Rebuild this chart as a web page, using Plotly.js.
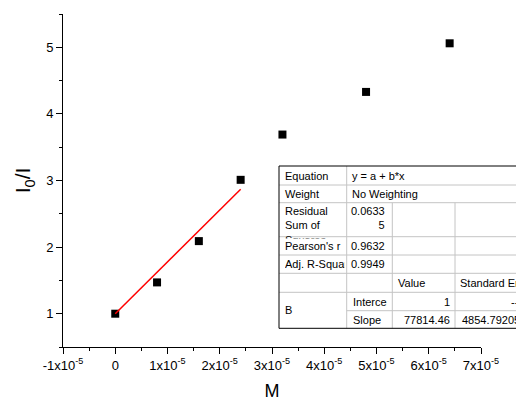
<!DOCTYPE html>
<html>
<head>
<meta charset="utf-8">
<script src="https://cdn.plot.ly/plotly-3.0.1.min.js"></script>
<style>
  html, body { margin: 0; padding: 0; background: #fff; }
  #chart { width: 516px; height: 401px; }
</style>
</head>
<body>
<div id="chart"></div>
<script>
// Measured data: concentration M vs. fluorescence ratio I0/I
const concM = [0, 0.8e-5, 1.6e-5, 2.4e-5, 3.2e-5, 4.8e-5, 6.4e-5];
const ratioI0I = [1.0, 1.47, 2.09, 3.01, 3.69, 4.33, 5.06];

// Linear fit results (first four points)
const fitIntercept = 1;
const fitSlope = 77814.46;
const fitSlopeErr = 4854.79205;
const fitResidualSS = 0.06335;
const fitPearsonR = 0.9632;
const fitAdjR2 = 0.9949;
const fitRangeX = [0, 2.4e-5];

// Axis ticks
const xTickVals = [-1e-5, 0, 1e-5, 2e-5, 3e-5, 4e-5, 5e-5, 6e-5, 7e-5];
const xTickText = ['-1x10<sup>-5</sup>', '0', '1x10<sup>-5</sup>', '2x10<sup>-5</sup>',
  '3x10<sup>-5</sup>', '4x10<sup>-5</sup>', '5x10<sup>-5</sup>', '6x10<sup>-5</sup>', '7x10<sup>-5</sup>'];
const yTickVals = [1, 2, 3, 4, 5];

const fitY = fitRangeX.map(x => fitIntercept + fitSlope * x);

// Page geometry (px) for the plot area and the fit-report table
const W = 516, H = 401, ML = 63, MR = 35, MT = 14, MB = 54;
const PW = W - ML - MR, PH = H - MT - MB;
const px = x => (x - ML) / PW;
const py = y => (H - MB - y) / PH;

const FONT = 'Liberation Sans, Arial, sans-serif';

// Table grid: column edges and row edges
const tc = [279, 346.7, 392.3, 455, 535];
const tr = [166, 185, 202.7, 236.7, 255, 273.3, 292.3, 310.7, 328.3];
const GRID = '#c4c4c4';

const shapes = [];
function seg(x0, y0, x1, y1, color) {
  shapes.push({type: 'line', xref: 'paper', yref: 'paper',
    x0: px(x0), y0: py(y0), x1: px(x1), y1: py(y1),
    line: {color: color, width: 1}});
}
shapes.push({type: 'rect', xref: 'paper', yref: 'paper',
  x0: px(tc[0]), x1: px(tc[4]), y0: py(tr[0]), y1: py(tr[8]),
  fillcolor: '#fff', line: {width: 0}});
for (let i = 1; i < tr.length - 1; i++) {
  seg(i === 7 ? tc[1] : tc[0], tr[i], tc[4], tr[i], GRID);
}
seg(tc[1], tr[0], tc[1], tr[8], GRID);
seg(tc[2], tr[2], tc[2], tr[8], GRID);
seg(tc[3], tr[2], tc[3], tr[8], GRID);
seg(tc[0], tr[0], tc[4], tr[0], '#000');
seg(tc[0], tr[8], tc[4], tr[8], '#000');
seg(tc[0], tr[0], tc[0], tr[8], '#000');

const annotations = [];
// One table cell: text placed at pixel x with the given anchor, centred on rows r0..r1
function cell(text, x, r0, r1, align, extra) {
  annotations.push(Object.assign({
    text: text, xref: 'paper', yref: 'paper', showarrow: false,
    x: px(x), xanchor: align,
    y: py((tr[r0] + tr[r1]) / 2), yanchor: 'middle',
    align: align, borderpad: 0,
    font: {family: FONT, size: 11, color: '#000'}
  }, extra || {}));
}

const L0 = tc[0] + 5, L1 = tc[1] + 4, L1b = tc[1] + 5.5, L2 = tc[2] + 5, L3 = tc[3] + 4;
const R1 = tc[2] - 6, R2 = tc[3] - 4;

cell('Equation', L0, 0, 1, 'left');
cell('y = a + b*x', L1, 0, 1, 'left');
cell('Weight', L0, 1, 2, 'left');
cell('No Weighting', L1, 1, 2, 'left');
cell('Residual<br>Sum of<br>Squares', L0, 2, 3, 'left',
  {y: py(tr[2] + 1), yanchor: 'top', valign: 'top', width: 60, height: tr[3] - tr[2] - 0.5});
cell(String(fitResidualSS).slice(0, 6) + '<br>' + String(fitResidualSS).slice(6), R1, 2, 3, 'right',
  {y: py(tr[2] + 1), yanchor: 'top', valign: 'top'});
cell("Pearson's r", L0, 3, 4, 'left');
cell(fitPearsonR.toFixed(4), R1, 3, 4, 'right');
cell('Adj. R-Square', L0, 4, 5, 'left', {width: 59.5});
cell(fitAdjR2.toFixed(4), R1, 4, 5, 'right');
cell('Value', L2, 5, 6, 'left');
cell('Standard Error', L3, 5, 6, 'left');
cell('B', L0, 6, 8, 'left');
cell('Intercept', L1b, 6, 7, 'left', {width: 34});
cell(String(fitIntercept), R2, 6, 7, 'right');
cell('--', 520, 6, 7, 'right');
cell('Slope', L1b, 7, 8, 'left');
cell(fitSlope.toFixed(2), R2, 7, 8, 'right');
cell(String(fitSlopeErr), L3 + 1.5, 7, 8, 'left');

const data = [
  {
    x: concM, y: ratioI0I, type: 'scatter', mode: 'markers',
    marker: {symbol: 'square', size: 8, color: '#000'},
    hoverinfo: 'x+y'
  },
  {
    x: fitRangeX, y: fitY, type: 'scatter', mode: 'lines',
    line: {color: '#ff0000', width: 1.5},
    hoverinfo: 'skip'
  }
];

const axisCommon = {
  showline: true, linecolor: '#000', linewidth: 1,
  ticks: 'outside', ticklen: 6, tickcolor: '#000', tickwidth: 1,
  showgrid: false, zeroline: false, mirror: false,
  tickfont: {family: FONT, size: 13, color: '#000'}
};

const layout = {
  width: W, height: H,
  margin: {l: ML, r: MR, t: MT, b: MB, pad: 0},
  paper_bgcolor: '#fff', plot_bgcolor: '#fff',
  showlegend: false,
  font: {family: FONT},
  xaxis: Object.assign({}, axisCommon, {
    range: [-1e-5, 7e-5], tickmode: 'array', tickvals: xTickVals, ticktext: xTickText,
    minor: {ticks: 'outside', ticklen: 3, tickcolor: '#000', dtick: 0.5e-5, tick0: 0, showgrid: false},
    title: {text: 'M', font: {family: FONT, size: 18, color: '#000'}, standoff: 16}
  }),
  yaxis: Object.assign({}, axisCommon, {
    range: [0.5, 5.5], tickmode: 'array', tickvals: yTickVals,
    minor: {ticks: 'outside', ticklen: 3, tickcolor: '#000', dtick: 0.5, tick0: 0, showgrid: false},
    title: {text: 'I<sub>0</sub>/I', font: {family: FONT, size: 21, color: '#000'}, standoff: 9}
  }),
  shapes: shapes,
  annotations: annotations
};

Plotly.newPlot('chart', data, layout, {displayModeBar: false, staticPlot: true});
</script>
</body>
</html>
